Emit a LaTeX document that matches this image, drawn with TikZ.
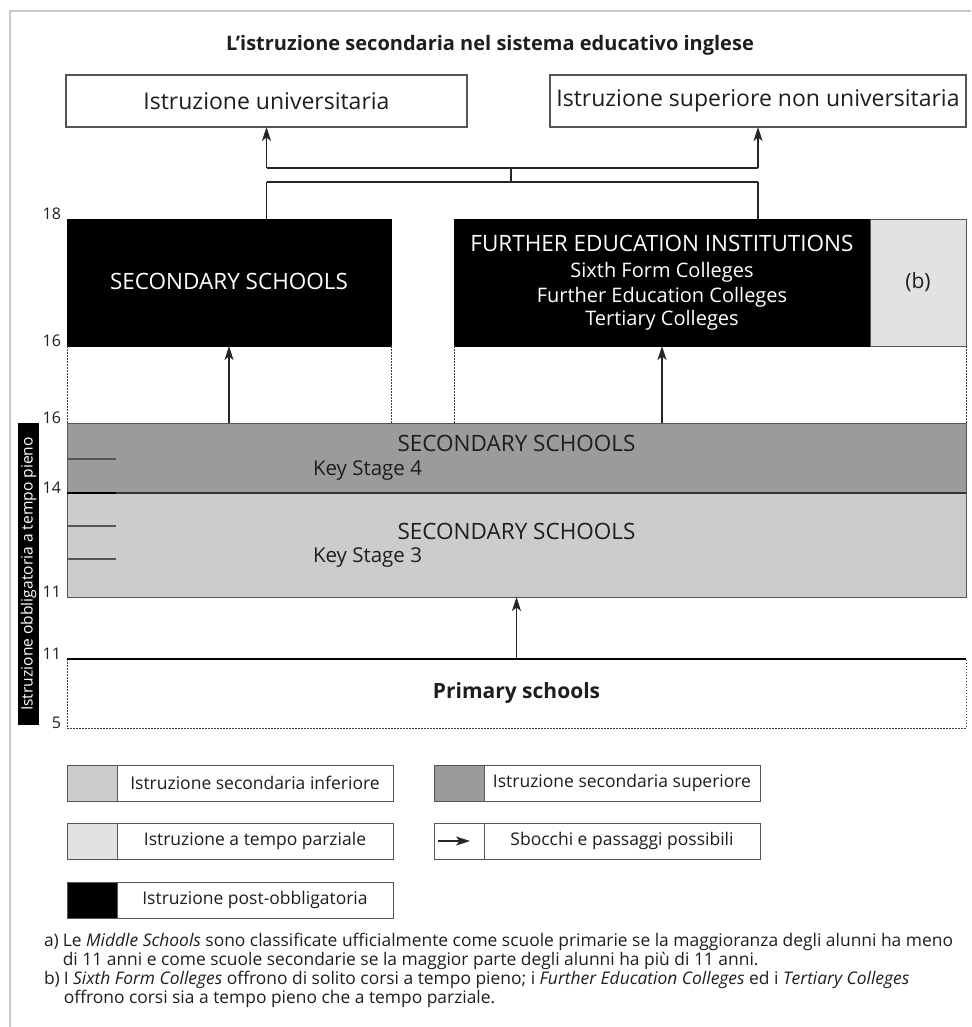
\documentclass[tikz,border=0pt]{standalone}
\usepackage{fontspec}
\setmainfont{Open Sans}
\usetikzlibrary{arrows.meta,calc}
\definecolor{bandD}{RGB}{155,155,155}
\definecolor{bandL}{RGB}{204,204,204}
\definecolor{partT}{RGB}{226,226,226}
\definecolor{framecol}{RGB}{200,200,200}
\definecolor{edgecol}{RGB}{85,85,85}
\definecolor{txt}{RGB}{30,30,30}
\begin{document}
\begin{tikzpicture}[x=1pt,y=-1pt,
  every node/.style={inner sep=0pt, outer sep=0pt, text=txt},
  whitebox/.style={draw=edgecol, line width=1.2pt, fill=white, font=\fontsize{23}{27}\selectfont},
  blackbox/.style={fill=black, draw=black, line width=1pt},
  wtext/.style={text=white},
  band/.style={draw=edgecol, line width=1pt},
  bigcaps/.style={font=\fontsize{22.5}{26}\selectfont},
  subline/.style={font=\fontsize{20}{24}\selectfont, text=white},
  kstext/.style={font=\fontsize{20.5}{24}\selectfont, anchor=west},
  agelabel/.style={anchor=base east, font=\fontsize{16}{18}\selectfont},
  tickline/.style={draw=edgecol, line width=1.2pt},
  link/.style={draw=black!85, line width=1.3pt},
  arr/.style={draw=black!85, line width=1.3pt, -{Stealth[length=14pt, width=9pt, inset=3.5pt]}},
  guide/.style={draw=black!75, line width=1pt, dash pattern=on 1.5pt off 1.5pt},
  legbox/.style={draw=edgecol, line width=1pt, fill=white, minimum width=326, minimum height=36, anchor=north west},
  swatch/.style={draw=edgecol, line width=1pt, minimum width=50, minimum height=36, anchor=north west},
  legtext/.style={font=\fontsize{17.5}{21}\selectfont},
  foot/.style={font=\fontsize{17.4}{18}\selectfont, anchor=north west, align=left}
]
\useasboundingbox (0,0) rectangle (971,1027);
\draw[framecol, line width=2pt] (10,1027) -- (10,11) -- (971,11);

% title
\node[font=\bfseries\fontsize{20}{25}\selectfont] (title) at (490,45) {L’istruzione secondaria nel sistema educativo inglese};

% higher education boxes
\node[whitebox, minimum width=401, minimum height=52, anchor=north west] (uni) at (66,75) {Istruzione universitaria};
\node[whitebox, minimum width=416, minimum height=52, anchor=north west] (nonuni) at (550,75) {Istruzione superiore non universitaria};

% post-16 boxes
\node[blackbox, minimum width=324, minimum height=127, anchor=north west] (ss) at (67,219) {};
\node[bigcaps, wtext] (sstext) at (229,281) {SECONDARY SCHOOLS};
\node[blackbox, minimum width=416, minimum height=127, anchor=north west] (fe) at (454,219) {};
\node[bigcaps, wtext] (fe1) at (662,243) {FURTHER EDUCATION INSTITUTIONS};
\node[subline] (fe2) at (662,272) {Sixth Form Colleges};
\node[subline] (fe3) at (662,297) {Further Education Colleges};
\node[subline] (fe4) at (662,320) {Tertiary Colleges};
\node[draw=edgecol, line width=1pt, fill=partT, minimum width=96, minimum height=127, anchor=north west] (bb) at (870,219) {};
\node[font=\fontsize{21}{24}\selectfont] (bbtext) at (bb.center) {(b)};

% connectors to higher education
\coordinate (j1) at (511,168);
\coordinate (j2) at (511,182);
\draw[link] (j1 -| uni.south) -- (j1 -| nonuni.south);
\draw[link] (j1) -- (j2);
\draw[link] (j2 -| uni.south) -- (j2 -| nonuni.south);
\draw[arr] (j1 -| uni.south) -- (uni.south);
\draw[arr] (j1 -| nonuni.south) -- (nonuni.south);
\draw[link] (j2 -| uni.south) -- (uni.south |- ss.north);
\draw[link] (j2 -| nonuni.south) -- (nonuni.south |- fe.north);

% compulsory secondary bands
\node[band, fill=bandD, minimum width=899, minimum height=70, anchor=north west] (ks4) at (67,423) {};
\node[band, fill=bandL, minimum width=899, minimum height=104, anchor=north west] (ks3) at (67,493) {};
\draw[draw=black!80, line width=1.8pt] (ks3.north west) -- (ks3.north east);
\node[bigcaps] (ks4t) at (516.5,443) {SECONDARY SCHOOLS};
\node[kstext] (ks4k) at (313,471) {Key Stage 4};
\node[bigcaps] (ks3t) at (516.5,531) {SECONDARY SCHOOLS};
\node[kstext] (ks3k) at (313,558) {Key Stage 3};
\draw[tickline] (67,459) -- (116,459);
\draw[tickline, draw=black, line width=2pt] (67,493) -- (116,493);
\draw[tickline] (67,526) -- (116,526);
\draw[tickline] (67,559) -- (116,559);

% dotted guides
\draw[guide] (ss.south west) -- (ss.south west |- ks4.north);
\draw[guide] (ss.south east) -- (ss.south east |- ks4.north);
\draw[guide] (fe.south west) -- (fe.south west |- ks4.north);
\draw[guide] (bb.south east) -- (bb.south east |- ks4.north);

% arrows from secondary
\draw[arr] (ss.south |- ks4.north) -- (ss.south);
\draw[arr] (fe.south |- ks4.north) -- (fe.south);

% primary
\node[minimum width=899, minimum height=69, anchor=north west] (prim) at (67,659) {};
\draw[guide] (prim.north west) -- (prim.south west) -- (prim.south east) -- (prim.north east);
\draw[draw=black, line width=2.2pt] (prim.north west) -- (prim.north east);
\node[font=\bfseries\fontsize{21}{24}\selectfont] (primtext) at (516.5,693) {Primary schools};
\draw[arr] (prim.north -| ks3.south) -- (ks3.south);

% compulsory bar
\node[fill=black, minimum width=21, minimum height=302, anchor=north west] (bar) at (18,423) {};
\node[rotate=90, text=white, font=\fontsize{15.6}{18}\selectfont] (bartext) at (bar.center) {Istruzione obbligatoria a tempo pieno};

% age labels
\node[agelabel] (a18) at (61,219) {18};
\node[agelabel] (a16a) at (61,346) {16};
\node[agelabel] (a16b) at (61,423) {16};
\node[agelabel] (a14) at (61,493) {14};
\node[agelabel] (a11a) at (61,597) {11};
\node[agelabel] (a11b) at (61,659) {11};
\node[agelabel] (a5) at (61,728) {5};

% legend
\node[legbox] (L1) at (67,765) {};
\node[swatch, fill=bandL] (L1s) at (L1.north west) {};
\node[legtext] (L1t) at ($(L1s.east)!0.5!(L1.east)$) {Istruzione secondaria inferiore};
\node[legbox] (L2) at (434,765) {};
\node[swatch, fill=bandD] (L2s) at (L2.north west) {};
\node[legtext] (L2t) at ($(L2s.east)!0.5!(L2.east)$) {Istruzione secondaria superiore};
\node[legbox] (L3) at (67,823) {};
\node[swatch, fill=partT] (L3s) at (L3.north west) {};
\node[legtext] (L3t) at ($(L3s.east)!0.5!(L3.east)$) {Istruzione a tempo parziale};
\node[legbox] (L4) at (434,823) {};
\node[swatch, fill=white] (L4s) at (L4.north west) {};
\node[legtext] (L4t) at ($(L4s.east)!0.5!(L4.east)$) {Sbocchi e passaggi possibili};
\coordinate (L4a) at ([xshift=4pt]L4s.west);
\coordinate (L4b) at ([xshift=-14pt]L4s.east);
\draw[arr, line width=1.2pt] (L4a) -- (L4b);
\node[legbox] (L5) at (67,882) {};
\node[swatch, fill=black] (L5s) at (L5.north west) {};
\node[legtext] (L5t) at ($(L5s.east)!0.5!(L5.east)$) {Istruzione post-obbligatoria};

% footnotes
\node[foot] (fa) at (44,933) {\begin{tabular}{@{}l@{\hspace{4pt}}l@{}}a) & Le \textit{Middle Schools} sono classificate ufficialmente come scuole primarie se la maggioranza degli alunni ha meno\\ & di 11 anni e come scuole secondarie se la maggior parte degli alunni ha più di 11 anni.\end{tabular}};
\node[foot] (fb) at (44,971) {\begin{tabular}{@{}l@{\hspace{4pt}}l@{}}b) & I \textit{Sixth Form Colleges} offrono di solito corsi a tempo pieno; i \textit{Further Education Colleges} ed i \textit{Tertiary Colleges}\\ & offrono corsi sia a tempo pieno che a tempo parziale.\end{tabular}};
\end{tikzpicture}
\end{document}
